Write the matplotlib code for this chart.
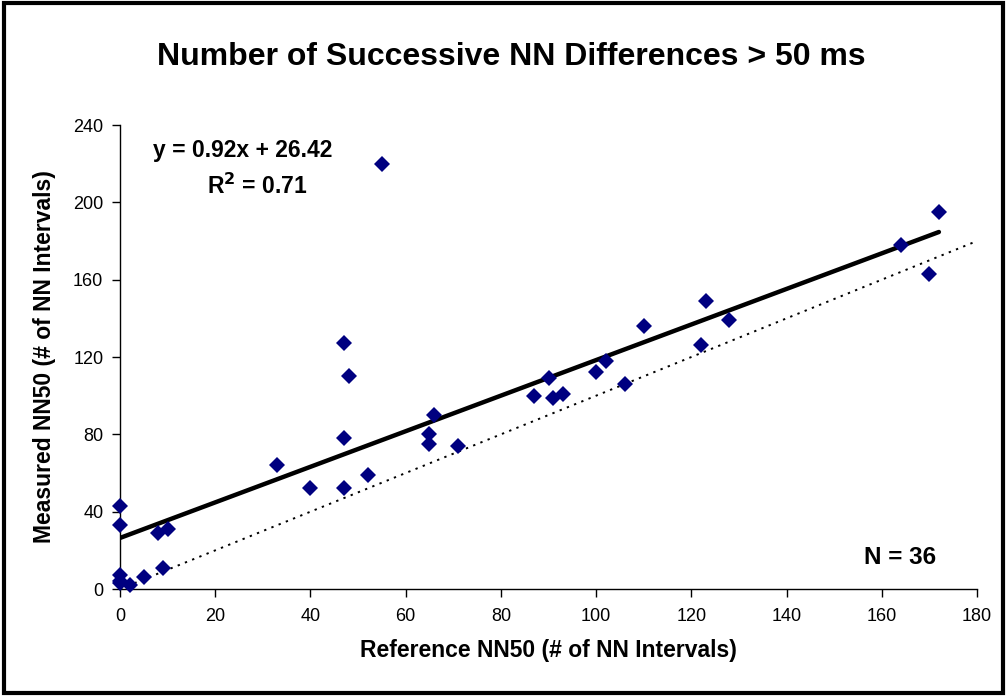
import matplotlib
matplotlib.use("Agg")
import matplotlib.pyplot as plt
from matplotlib.patches import Rectangle
import numpy as np

plt.rcParams['font.family'] = ['Liberation Sans', 'DejaVu Sans']

reference_nn50 = [0, 0, 0, 0, 0, 2, 5, 8, 10, 9, 33, 40, 47, 48, 47, 47, 52, 55,
                  65, 65, 66, 71, 87, 90, 91, 93, 100, 102, 106, 110, 122,
                  123, 128, 164, 170, 172]
measured_nn50 = [43, 33, 7, 4, 3, 2, 6, 29, 31, 11, 64, 52, 127, 110, 78, 52, 59, 220,
                 80, 75, 90, 74, 100, 109, 99, 101, 112, 118, 106, 136, 126,
                 149, 139, 178, 163, 195]

slope = 0.92
intercept = 26.42
r_squared = 0.71
n_points = 36

x_ticks = [0, 20, 40, 60, 80, 100, 120, 140, 160, 180]
y_ticks = [0, 40, 80, 120, 160, 200, 240]

fig = plt.figure(figsize=(10.07, 6.96), dpi=100)
ax = fig.add_axes([0.1192, 0.1537, 0.851, 0.6667])

# identity line
ax.plot([0, 180], [0, 180], linestyle=(0, (1.2, 2.8)), color='black', linewidth=1.4, zorder=2)
# trend line
xs = np.array([min(reference_nn50), max(reference_nn50)])
ax.plot(xs, slope * xs + intercept, color='black', linewidth=3.2, solid_capstyle='round', zorder=3)
# points
ax.plot(reference_nn50, measured_nn50, linestyle='none', marker='D', markersize=8.2,
        color='#000080', markeredgewidth=0, zorder=4, clip_on=False)

ax.set_xlim(0, 180)
ax.set_ylim(0, 240)
ax.set_xticks(x_ticks)
ax.set_yticks(y_ticks)
ax.tick_params(direction='out', length=6, width=1, labelsize=13, colors='black')
ax.tick_params(axis='x', pad=8)
ax.tick_params(axis='y', pad=6)
for s in ['top', 'right']:
    ax.spines[s].set_visible(False)
for s in ['left', 'bottom']:
    ax.spines[s].set_linewidth(1)
    ax.spines[s].set_color('black')

ax.set_xlabel('Reference NN50 (# of NN Intervals)', fontsize=16.5, fontweight='bold', labelpad=10)
ax.set_ylabel('Measured NN50 (# of NN Intervals)', fontsize=16.5, fontweight='bold', labelpad=12)

fig.text(0.508, 0.918, 'Number of Successive NN Differences > 50 ms', ha='center', va='center',
         fontsize=23, fontweight='bold')
fig.text(0.241, 0.784, f'y = {slope:.2f}x + {intercept:.2f}', ha='center', va='center',
         fontsize=16.5, fontweight='bold')
fig.text(0.255, 0.733, f'R$^\\mathbf{{2}}$ = {r_squared:.2f}', ha='center', va='center',
         fontsize=16.5, fontweight='bold')
fig.text(0.894, 0.199, f'N = {n_points}', ha='center', va='center',
         fontsize=17.5, fontweight='bold')

fig.patches.append(Rectangle((0.004, 0.004), 0.992, 0.992, transform=fig.transFigure,
                             fill=False, edgecolor='black', linewidth=3))

fig.savefig('out.png', dpi=100)
